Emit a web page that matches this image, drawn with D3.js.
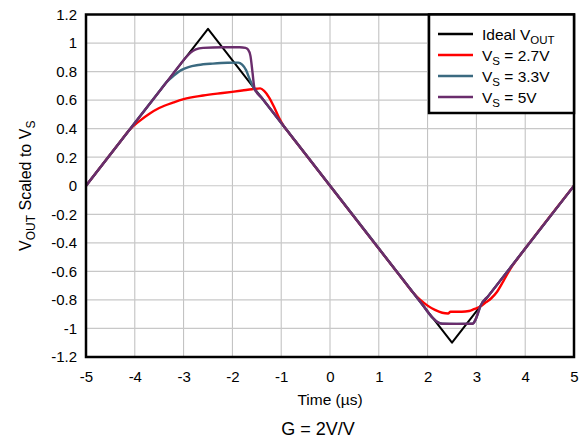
<!DOCTYPE html>
<html>
<head>
<meta charset="utf-8">
<script src="https://cdn.jsdelivr.net/npm/d3@7"></script>
<style>
  body { margin: 0; background: #fff; }
  svg { display: block; font-family: 'Liberation Sans', Arial, sans-serif; }
</style>
</head>
<body>
<div id="chart"></div>
<script>
const W = 587
const H = 447
const margin = {top: 14.5, right: 13, bottom: 90, left: 86}

// data (time in us, output scaled to Vs)
const idealT = [-5, -2.5, 2.5, 5]
const idealV = [0, 1.1, -1.1, 0]

const vs27T = [-5, -4.3, -4.1, -3.9, -3.7, -3.5, -3.2, -3.0, -2.6, -2.2, -1.8, -1.6, -1.5, -1.43, -1.35, -1.25, -1.15, -1.05, -0.95, -0.85, -0.7, 1.5, 1.7, 1.85, 2.0, 2.15, 2.3, 2.42, 2.47, 2.7, 2.85, 2.95, 3.07, 3.2, 3.3, 3.42, 3.55, 3.7, 3.85, 4.0, 5]
const vs27V = [0, 0.308, 0.395, 0.455, 0.505, 0.545, 0.585, 0.607, 0.632, 0.65, 0.667, 0.676, 0.68, 0.682, 0.665, 0.62, 0.555, 0.48, 0.42, 0.374, 0.308, -0.66, -0.748, -0.8, -0.84, -0.87, -0.89, -0.895, -0.883, -0.883, -0.878, -0.865, -0.848, -0.815, -0.79, -0.745, -0.67, -0.58, -0.508, -0.44, 0]

const vs33T = [-5, -3.5, -3.35, -3.2, -3.05, -2.9, -2.7, -2.4, -2.1, -1.88, -1.8, -1.72, -1.65, -1.57, -1.4, 1.9, 2.1, 2.2, 2.3, 2.6, 2.92, 2.98, 3.03, 3.08, 3.25, 5]
const vs33V = [0, 0.66, 0.726, 0.772, 0.81, 0.832, 0.846, 0.856, 0.862, 0.863, 0.848, 0.81, 0.75, 0.69, 0.616, -0.836, -0.924, -0.955, -0.966, -0.968, -0.966, -0.94, -0.895, -0.845, -0.77, 0]

const vs5T = [-5, -3.2, -3.05, -2.95, -2.85, -2.75, -2.6, -2.2, -1.85, -1.73, -1.68, -1.63, -1.59, -1.545, -1.4, 1.9, 2.1, 2.2, 2.3, 2.6, 2.92, 2.98, 3.03, 3.08, 3.25, 5]
const vs5V = [0, 0.792, 0.858, 0.9, 0.935, 0.955, 0.966, 0.97, 0.97, 0.966, 0.955, 0.91, 0.8, 0.68, 0.616, -0.836, -0.924, -0.955, -0.967, -0.968, -0.967, -0.94, -0.895, -0.845, -0.77, 0]

const xTicks = [-5, -4, -3, -2, -1, 0, 1, 2, 3, 4, 5]
const yTicks = [-1.2, -1, -0.8, -0.6, -0.4, -0.2, 0, 0.2, 0.4, 0.6, 0.8, 1, 1.2]

const series = [
  {name: 'ideal', t: idealT, v: idealV, color: '#000000', width: 2, curve: d3.curveLinear},
  {name: '2.7', t: vs27T, v: vs27V, color: '#ff0000', width: 2.4, curve: d3.curveMonotoneX},
  {name: '3.3', t: vs33T, v: vs33V, color: '#3b6a80', width: 2.4, curve: d3.curveMonotoneX},
  {name: '5', t: vs5T, v: vs5V, color: '#6a2d6c', width: 2.4, curve: d3.curveMonotoneX}
]

const x = d3.scaleLinear().domain([-5, 5]).range([margin.left, W - margin.right])
const y = d3.scaleLinear().domain([-1.2, 1.2]).range([H - margin.bottom, margin.top])

const svg = d3.select('#chart').append('svg')
  .attr('width', W).attr('height', H)

// grid
svg.append('g')
  .selectAll('line')
  .data(xTicks)
  .join('line')
  .attr('x1', d => x(d)).attr('x2', d => x(d))
  .attr('y1', y(1.2)).attr('y2', y(-1.2))
  .attr('stroke', '#bdbdbd').attr('stroke-width', 1)

svg.append('g')
  .selectAll('line')
  .data(yTicks)
  .join('line')
  .attr('x1', x(-5)).attr('x2', x(5))
  .attr('y1', d => y(d)).attr('y2', d => y(d))
  .attr('stroke', '#c8c8c8').attr('stroke-width', 1.2)

// axes (labels only)
const xAxis = svg.append('g')
  .attr('transform', `translate(0,${y(-1.2)})`)
  .call(d3.axisBottom(x).tickValues(xTicks).tickSize(0).tickPadding(14).tickFormat(d => String(d)))
xAxis.select('.domain').remove()
xAxis.selectAll('text').attr('font-size', 15).attr('fill', '#000').attr('font-family', 'Liberation Sans, Arial, sans-serif')

const yAxis = svg.append('g')
  .attr('transform', `translate(${x(-5)},0)`)
  .call(d3.axisLeft(y).tickValues(yTicks).tickSize(0).tickPadding(9).tickFormat(d => String(+d.toFixed(1))))
yAxis.select('.domain').remove()
yAxis.selectAll('text').attr('font-size', 15).attr('fill', '#000').attr('font-family', 'Liberation Sans, Arial, sans-serif')

// lines
const line = d3.line()
series.forEach(s => {
  const pts = s.t.map((t, i) => [t, s.v[i]])
  line.x(d => x(d[0])).y(d => y(d[1])).curve(s.curve)
  svg.append('path')
    .attr('d', line(pts))
    .attr('fill', 'none')
    .attr('stroke', s.color)
    .attr('stroke-width', s.width)
    .attr('stroke-linejoin', 'round')
})

// plot frame
svg.append('rect')
  .attr('x', x(-5)).attr('y', y(1.2))
  .attr('width', x(5) - x(-5)).attr('height', y(-1.2) - y(1.2))
  .attr('fill', 'none').attr('stroke', '#000').attr('stroke-width', 2.5)

// legend
const lg = svg.append('g')
lg.append('rect')
  .attr('x', 429).attr('y', y(1.2))
  .attr('width', x(5) - 429).attr('height', 113 - y(1.2))
  .attr('fill', '#fff').attr('stroke', '#000').attr('stroke-width', 2.5)

const legendItems = [
  {color: '#000000', parts: [['Ideal V', 0], ['OUT', 1]]},
  {color: '#ff0000', parts: [['V', 0], ['S', 1], [' = 2.7V', 0]]},
  {color: '#3b6a80', parts: [['V', 0], ['S', 1], [' = 3.3V', 0]]},
  {color: '#6a2d6c', parts: [['V', 0], ['S', 1], [' = 5V', 0]]}
]
legendItems.forEach((it, i) => {
  const yy = 34 + i * 21
  lg.append('line')
    .attr('x1', 438).attr('x2', 473).attr('y1', yy).attr('y2', yy)
    .attr('stroke', it.color).attr('stroke-width', 2.5)
  const t = lg.append('text')
    .attr('x', 482).attr('y', yy + 5.5)
    .attr('font-size', 15.5)
  it.parts.forEach(p => {
    const ts = t.append('tspan').text(p[0])
    if (p[1]) ts.attr('font-size', 11.5).attr('dy', 4)
    else if (p[0] !== 'V' && p[0] !== 'Ideal V') ts.attr('dy', -4)
  })
})

// axis titles
const yt = svg.append('text')
  .attr('transform', `translate(31,${(y(1.2) + y(-1.2)) / 2}) rotate(-90)`)
  .attr('text-anchor', 'middle')
  .attr('font-size', 16)
yt.append('tspan').text('V')
yt.append('tspan').text('OUT').attr('font-size', 12).attr('dy', 4)
yt.append('tspan').text(' Scaled to V').attr('dy', -4)
yt.append('tspan').text('S').attr('font-size', 12).attr('dy', 4)

svg.append('text')
  .attr('x', x(0)).attr('y', 405)
  .attr('text-anchor', 'middle')
  .attr('font-size', 15.5)
  .text('Time (\u00b5s)')

svg.append('text')
  .attr('x', 318).attr('y', 435)
  .attr('text-anchor', 'middle')
  .attr('font-size', 18)
  .text('G = 2V/V')
</script>
</body>
</html>
